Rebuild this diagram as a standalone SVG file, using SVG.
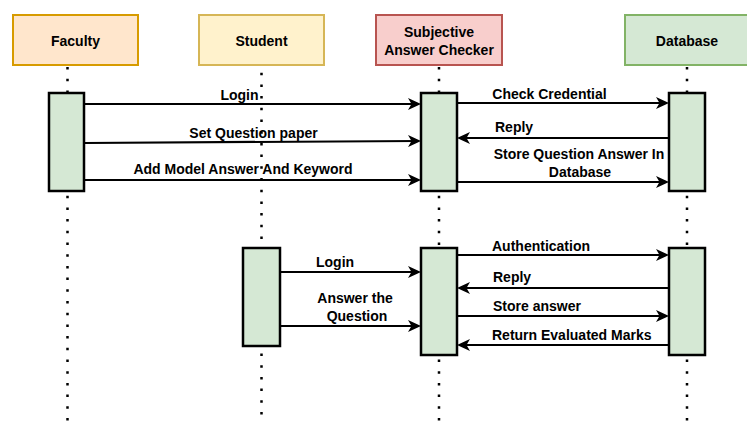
<svg xmlns="http://www.w3.org/2000/svg" width="747" height="421" viewBox="0 0 747 421">
<style>
  .t { font-family: "Liberation Sans", Arial, sans-serif; font-size: 14px; font-weight: bold; fill: #000; }
  .m { text-anchor: middle; }
  .life { stroke: #000; stroke-width: 2.5; stroke-dasharray: 2.5 9.2; fill: none; }
  .act { fill: #d5e8d4; stroke: #000; stroke-width: 2.5; }
  .msg { stroke: #000; stroke-width: 2.2; fill: none; marker-end: url(#arr); }
</style>
<defs>
  <marker id="arr" viewBox="0 0 13 12" refX="10" refY="6" markerWidth="13" markerHeight="12" markerUnits="userSpaceOnUse" orient="auto">
    <path d="M0,0 L13,6 L0,12 L3.5,6 Z" fill="#000"/>
  </marker>
</defs>
<rect width="747" height="421" fill="#fff"/>

<g id="lifelines">
  <line class="life" x1="67.5" y1="67" x2="67.5" y2="421"/>
  <line class="life" x1="261.5" y1="61" x2="261.5" y2="421"/>
  <line class="life" x1="439" y1="67" x2="439" y2="421"/>
  <line class="life" x1="687" y1="67" x2="687" y2="421"/>
</g>

<g id="faculty">
  <rect x="13" y="15" width="125" height="50" fill="#ffe6cc" stroke="#d79b00" stroke-width="2"/>
  <text class="t m" x="75.5" y="45.5">Faculty</text>
  <rect class="act" x="49" y="93" width="35" height="98"/>
</g>
<g id="student">
  <rect x="199" y="15" width="125" height="50" fill="#fff2cc" stroke="#d6b656" stroke-width="2"/>
  <text class="t m" x="261.5" y="45.5">Student</text>
  <rect class="act" x="243" y="248" width="37" height="98"/>
</g>
<g id="checker">
  <rect x="376" y="15" width="126" height="50" fill="#f8cecc" stroke="#b85450" stroke-width="2"/>
  <text class="t m" x="439" y="37">Subjective</text>
  <text class="t m" x="439" y="55">Answer Checker</text>
  <rect class="act" x="421" y="93" width="36" height="98"/>
  <rect class="act" x="421" y="248" width="36" height="107"/>
</g>
<g id="database">
  <rect x="625" y="15" width="125" height="50" fill="#d5e8d4" stroke="#82b366" stroke-width="2"/>
  <text class="t m" x="687" y="45.5">Database</text>
  <rect class="act" x="669" y="93" width="36" height="98"/>
  <rect class="act" x="669" y="248" width="36" height="107"/>
</g>

<g id="connectors">
  <line class="msg" x1="85" y1="104" x2="418" y2="104"/>
  <line class="msg" x1="85" y1="143" x2="418" y2="141"/>
  <line class="msg" x1="85" y1="180" x2="418" y2="180"/>
  <line class="msg" x1="458" y1="103" x2="666" y2="103"/>
  <line class="msg" x1="668" y1="138" x2="460" y2="138"/>
  <line class="msg" x1="458" y1="182" x2="666" y2="182"/>
  <line class="msg" x1="281" y1="272" x2="418" y2="272"/>
  <line class="msg" x1="281" y1="326" x2="418" y2="326"/>
  <line class="msg" x1="458" y1="255" x2="666" y2="255"/>
  <line class="msg" x1="668" y1="288" x2="460" y2="288"/>
  <line class="msg" x1="458" y1="316" x2="666" y2="316"/>
  <line class="msg" x1="668" y1="345" x2="460" y2="345"/>
</g>

<g id="labels">
  <text class="t m" x="239.5" y="100">Login</text>
  <text class="t m" x="253.5" y="138">Set Question paper</text>
  <text class="t m" x="243" y="174">Add Model Answer And Keyword</text>
  <text class="t m" x="549.5" y="99">Check Credential</text>
  <text class="t" x="495" y="132">Reply</text>
  <text class="t m" x="579" y="159">Store Question Answer In</text>
  <text class="t m" x="580" y="177">Database</text>
  <text class="t" x="316" y="267">Login</text>
  <text class="t m" x="355" y="303">Answer the</text>
  <text class="t m" x="357" y="321">Question</text>
  <text class="t" x="492" y="251">Authentication</text>
  <text class="t" x="493" y="282">Reply</text>
  <text class="t" x="493" y="311">Store answer</text>
  <text class="t" x="492" y="340">Return Evaluated Marks</text>
</g>
</svg>
